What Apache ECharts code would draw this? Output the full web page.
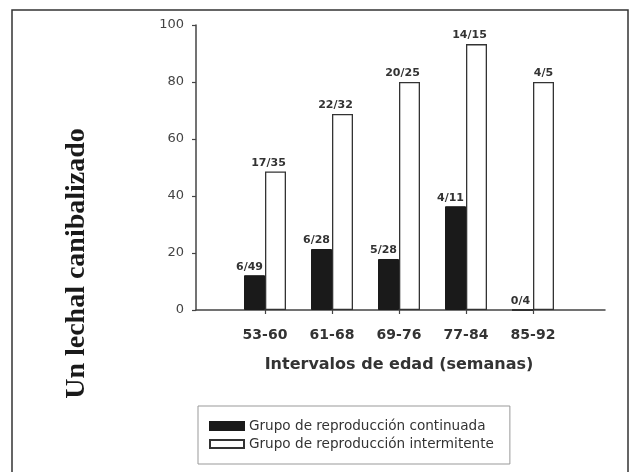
<!DOCTYPE html>
<html>
<head>
<meta charset="utf-8">
<script src="https://cdn.jsdelivr.net/npm/echarts@6/dist/echarts.min.js"></script>
<style>html,body{margin:0;padding:0;background:#fff;}#c{width:633px;height:472px;}</style>
</head>
<body>
<div id="c"></div>
<script>
var categories = ['53-60', '61-68', '69-76', '77-84', '85-92'];
var continuadaValues = [12.2, 21.4, 17.9, 36.4, 0];
var intermitenteValues = [48.6, 68.8, 80, 93.3, 80];
var continuadaLabels = ['6/49', '6/28', '5/28', '4/11', '0/4'];
var intermitenteLabels = ['17/35', '22/32', '20/25', '14/15', '4/5'];
var seriesNames = ['Grupo de reproducción continuada', 'Grupo de reproducción intermitente'];
var yTitle = 'Un lechal canibalizado';
var xTitle = 'Intervalos de edad (semanas)';

var SANS = 'DejaVu Sans';
var chart = echarts.init(document.getElementById('c'), null, {renderer: 'canvas'});

function items(vals, labels, offX, lastOff) {
  return vals.map(function (v, i) {
    return {
      value: v,
      label: {formatter: labels[i], offset: [(i === vals.length - 1 && lastOff !== undefined) ? lastOff : offX, 0]}
    };
  });
}

var labelStyle = {show: true, position: 'top', distance: 3, fontFamily: SANS, fontSize: 11, fontWeight: 'bold', color: '#333'};

chart.setOption({
  animation: false,
  backgroundColor: '#fff',
  graphic: [{
    type: 'rect', silent: true,
    shape: {x: 12, y: 10, width: 616, height: 520},
    style: {fill: 'none', stroke: '#333', lineWidth: 1.5}
  }],
  grid: [
    {left: 196, right: 28, top: 25, bottom: 162},
    {left: 231.5, right: 66.5, top: 25, bottom: 162}
  ],
  xAxis: [
    {type: 'value', gridIndex: 0, min: 0, max: 1, splitLine: {show: false},
     axisLabel: {show: false}, axisTick: {show: false},
     axisLine: {show: true, onZero: false, lineStyle: {color: '#444', width: 1.5}}},
    {type: 'category', gridIndex: 1, data: categories,
     axisLine: {show: false}, axisTick: {show: true, alignWithLabel: true, length: 4, lineStyle: {color: '#444', width: 1.2}},
     axisLabel: {margin: 18, fontFamily: SANS, fontSize: 14, fontWeight: 'bold', color: '#333'},
     name: xTitle, nameLocation: 'middle', nameGap: 47,
     nameTextStyle: {fontFamily: SANS, fontSize: 16, fontWeight: 'bold', color: '#333'}}
  ],
  yAxis: [
    {type: 'value', gridIndex: 0, min: 0, max: 100, interval: 20, splitLine: {show: false},
     axisLine: {show: true, lineStyle: {color: '#444', width: 1.5}},
     axisTick: {show: true, length: 4, lineStyle: {color: '#444', width: 1.2}},
     axisLabel: {margin: 12, fontFamily: SANS, fontSize: 13, color: '#444'},
     name: yTitle, nameLocation: 'middle', nameGap: 105, nameRotate: 90,
     nameTextStyle: {fontFamily: 'Liberation Serif', fontSize: 28, fontWeight: 'bold', color: '#1a1a1a', padding: [0, 192, 0, 0]}},
    {type: 'value', gridIndex: 1, min: 0, max: 100, show: false, splitLine: {show: false}}
  ],
  legend: {
    left: 198, top: 406, orient: 'vertical',
    padding: [13, 16, 13, 11], itemGap: 4,
    itemWidth: 34, itemHeight: 8, icon: 'rect',
    borderColor: '#999', borderWidth: 1,
    textStyle: {fontFamily: SANS, fontSize: 13.6, color: '#333'},
    data: seriesNames
  },
  series: [
    {name: seriesNames[0], type: 'bar', xAxisIndex: 1, yAxisIndex: 1,
     barWidth: 21, barGap: '0%',
     itemStyle: {color: '#1a1a1a', borderColor: '#1a1a1a', borderWidth: 1},
     label: labelStyle,
     data: items(continuadaValues, continuadaLabels, -5, -2)},
    {name: seriesNames[1], type: 'bar', xAxisIndex: 1, yAxisIndex: 1,
     barWidth: 21, barGap: '0%',
     itemStyle: {color: '#fff', borderColor: '#333', borderWidth: 1.3},
     label: labelStyle,
     data: items(intermitenteValues, intermitenteLabels, -7, 0)}
  ]
});
</script>
</body>
</html>
